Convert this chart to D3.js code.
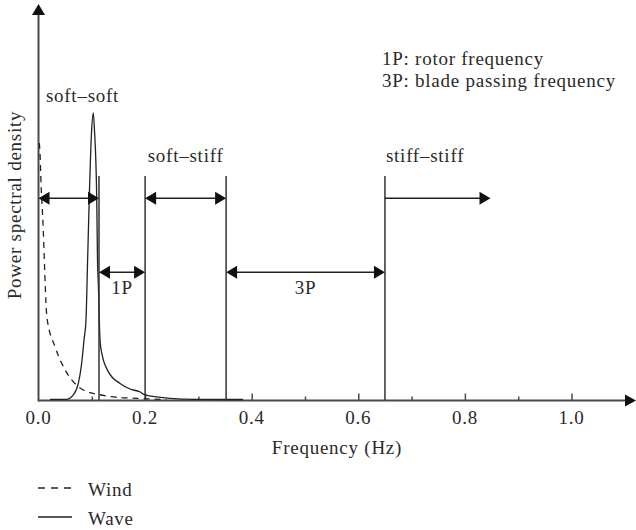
<!DOCTYPE html>
<html><head><meta charset="utf-8">
<script src="https://cdn.jsdelivr.net/npm/d3@7"></script>
<style>
html,body{margin:0;padding:0;background:#fff;}
svg text{font-family:"Liberation Serif","DejaVu Serif",serif;fill:#2a2a2a;letter-spacing:0.75px;}
</style></head>
<body><svg id="c" width="636" height="530"></svg>
<script>
// ---- data ----
const windFreq = [0.0015,0.0028,0.0047,0.0079,0.016,0.031,0.0435,0.0623,0.084,0.109,0.147,0.184,0.228,0.24];
const windPSD  = [65.0,62.5,54.9,46.3,20.8,13.6,9.4,5.2,2.65,1.64,0.81,0.56,0.30,0.25];
const waveFreq = [0.0216,0.0529,0.0653,0.0747,0.081,0.0854,0.0891,0.092,0.0953,0.0994,0.1028,0.105,0.1092,0.1107,0.1122,0.1154,0.1186,0.131,0.153,0.1717,0.190,0.1998,0.2467,0.2968,0.3837];
const wavePSD  = [0.3,0.3,1.4,4.3,9.4,15.3,20.3,34.7,51.4,67.5,72.6,68.3,51.4,35.5,29.6,15.3,12.0,7.3,4.3,2.9,2.2,1.4,0.56,0.3,0.25];
const majorTicks = [0.0,0.2,0.4,0.6,0.8,1.0];
const minorTicks = [0.1,0.3,0.5,0.7,0.9];
const bounds = [0.1135,0.2,0.352,0.65];       // 1P low, 1P high, 3P low, 3P high
const stiffEnd = 0.848;
const rangeLabels = ["soft\u2013soft","soft\u2013stiff","stiff\u2013stiff"];
const freqLabels = ["1P","3P"];
const notes = ["1P: rotor frequency","3P: blade passing frequency"];
const legendNames = ["Wind","Wave"];
const xTitle = "Frequency (Hz)", yTitle = "Power spectral density";

// ---- scales ----
const svg = d3.select("#c");
const x = d3.scaleLinear().domain([0,1]).range([38.5,571.5]);
const y = d3.scaleLinear().domain([0,100]).range([400.5,4.5]);
const boundTop = 56.7, arrowHi = 51.1, arrowLo = 32.4;
const ink = "#222", axisCol = "#4a4a4a", FS = 19;

// axes
const ax = svg.append("g");
ax.append("line").attr("x1",x(0)).attr("x2",627).attr("y1",y(0)).attr("y2",y(0)).attr("stroke",axisCol).attr("stroke-width",2);
ax.append("path").attr("d",`M636,${y(0)} L625,${y(0)-6} L625,${y(0)+6} Z`).attr("fill","#111");
ax.append("line").attr("x1",x(0)).attr("x2",x(0)).attr("y1",y(0)+1).attr("y2",14).attr("stroke",axisCol).attr("stroke-width",2);
ax.append("path").attr("d",`M${x(0)},4 L${x(0)-6.5},15 L${x(0)+6.5},15 Z`).attr("fill","#111");

const xAxis = d3.axisBottom(x).tickValues(majorTicks.filter(d=>d>0)).tickSize(-7).tickFormat("");
ax.append("g").attr("transform",`translate(0,${y(0)})`).call(xAxis)
  .call(g=>{g.select(".domain").remove(); g.selectAll("line").attr("stroke",axisCol).attr("stroke-width",1.5);});
const xMinor = d3.axisBottom(x).tickValues(minorTicks).tickSize(-4).tickFormat("");
ax.append("g").attr("transform",`translate(0,${y(0)})`).call(xMinor)
  .call(g=>{g.select(".domain").remove(); g.selectAll("line").attr("stroke",axisCol).attr("stroke-width",1.5);});
ax.selectAll(".ticklbl").data(majorTicks).enter().append("text")
  .attr("x",d=>x(d)).attr("y",423.5).attr("text-anchor","middle").attr("font-size",FS)
  .text(d=>d3.format(".1f")(d));
ax.append("text").attr("x",337).attr("y",454).attr("text-anchor","middle").attr("font-size",FS).text(xTitle);
ax.append("text").attr("transform","translate(21,205) rotate(-90)").attr("text-anchor","middle").attr("font-size",FS).text(yTitle);

// curves
const line = d3.line().x(d=>x(d[0])).y(d=>y(d[1])).curve(d3.curveMonotoneX);
svg.append("path").attr("d",line(windFreq.map((f,i)=>[f,windPSD[i]])))
  .attr("fill","none").attr("stroke",ink).attr("stroke-width",1.3).attr("stroke-dasharray","6,5");
svg.append("path").attr("d",line(waveFreq.map((f,i)=>[f,wavePSD[i]])))
  .attr("fill","none").attr("stroke",ink).attr("stroke-width",1.3);

// boundaries
svg.selectAll(".bnd").data(bounds).enter().append("line")
  .attr("x1",d=>x(d)).attr("x2",d=>x(d)).attr("y1",y(boundTop)).attr("y2",y(0))
  .attr("stroke","#333").attr("stroke-width",1.5);

// arrows
function arrow(f0,f1,v,both){
  const x0=x(f0), x1=x(f1), yy=y(v), L=11, W=6.5;
  svg.append("line").attr("x1",x0+(both?3:0)).attr("x2",x1-3).attr("y1",yy).attr("y2",yy).attr("stroke","#222").attr("stroke-width",1.5);
  svg.append("path").attr("d",`M${x1},${yy} L${x1-L},${yy-W} L${x1-L},${yy+W} Z`).attr("fill","#111");
  if(both) svg.append("path").attr("d",`M${x0},${yy} L${x0+L},${yy-W} L${x0+L},${yy+W} Z`).attr("fill","#111");
}
arrow(0,bounds[0],arrowHi,true);
arrow(bounds[1],bounds[2],arrowHi,true);
arrow(bounds[3],stiffEnd,arrowHi,false);
arrow(bounds[0],bounds[1],arrowLo,true);
arrow(bounds[2],bounds[3],arrowLo,true);

// labels
svg.append("text").attr("x",82.5).attr("y",102).attr("text-anchor","middle").attr("font-size",FS).text(rangeLabels[0]);
svg.append("text").attr("x",x((bounds[1]+bounds[2])/2)).attr("y",162).attr("text-anchor","middle").attr("font-size",FS).text(rangeLabels[1]);
svg.append("text").attr("x",x(bounds[3])+1).attr("y",162).attr("text-anchor","start").attr("font-size",FS).text(rangeLabels[2]);
svg.append("text").attr("x",x((bounds[0]+bounds[1])/2)).attr("y",294).attr("text-anchor","middle").attr("font-size",FS).text(freqLabels[0]);
svg.append("text").attr("x",x((bounds[2]+bounds[3])/2)).attr("y",294).attr("text-anchor","middle").attr("font-size",FS).text(freqLabels[1]);
svg.selectAll(".note").data(notes).enter().append("text")
  .attr("x",382).attr("y",(d,i)=>65+i*22).attr("font-size",FS).text(d=>d);

// legend
const lg = svg.append("g");
legendNames.forEach((n,i)=>{
  const yy = 488 + i*29;
  lg.append("line").attr("x1",38).attr("x2",72).attr("y1",yy).attr("y2",yy).attr("stroke",ink).attr("stroke-width",1.3)
    .attr("stroke-dasharray", i===0 ? "7,6" : null);
  lg.append("text").attr("x",88).attr("y",yy+8).attr("font-size",FS).text(n);
});
</script></body></html>
